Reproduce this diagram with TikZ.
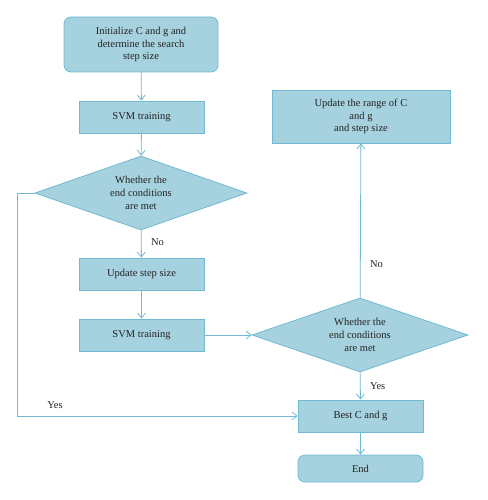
\documentclass[tikz,border=0pt]{standalone}
\usepackage{fontspec}
\setmainfont{Liberation Serif}
\usetikzlibrary{shapes.geometric,arrows.meta}
\definecolor{boxfill}{RGB}{166,209,222}
\definecolor{boxline}{RGB}{112,186,211}
\definecolor{txt}{RGB}{35,35,35}
\begin{document}
\begin{tikzpicture}[x=1pt,y=-1pt,line width=0.8pt,
    every node/.style={font=\fontsize{10.5}{12.8}\selectfont,text=txt},
    box/.style={draw=boxline,fill=boxfill,align=center,inner sep=0pt,
      minimum width=125,minimum height=32},
    rbox/.style={box,rounded corners=7pt},
    decision/.style={diamond,draw=boxline,fill=boxfill,align=center,
      inner sep=0pt,aspect=2.9,minimum width=212,minimum height=74},
    flow/.style={draw=boxline,-{Straight Barb[length=5pt,width=8pt]}}]
  \useasboundingbox (0,0) rectangle (487,500);
  \node[rbox,minimum width=154,minimum height=55] (init) at (141,44.5)
    {Initialize C and g and\\determine the search\\step size};
  \node[box] (train1) at (141.5,117) {SVM training};
  \node[decision] (cond1) at (141,193) {Whether the\\end conditions\\are met};
  \node[box] (step) at (141.5,274) {Update step size};
  \node[box] (train2) at (141.5,335) {SVM training};
  \node[decision,minimum width=216] (cond2) at (360,335)
    {Whether the\\end conditions\\are met};
  \node[box,minimum width=178,minimum height=53] (range) at (361,116.5)
    {Update the range of C\\and g\\and step size};
  \node[box] (best) at (360.5,416) {Best C and g};
  \node[rbox,minimum height=27] (end) at (360.5,468.5) {End};
  \draw[flow] (init) -- (train1);
  \draw[flow] (train1) -- (cond1);
  \draw[flow] (cond1) -- node[right=6pt,pos=0.45]{No} (step);
  \draw[flow] (step) -- (train2);
  \draw[flow] (train2) -- (cond2);
  \draw[flow] (cond2) -- node[right=6pt,pos=0.22]{No} (range);
  \draw[flow] (cond2) -- node[right=6pt,pos=0.5]{Yes} (best);
  \draw[flow] (best) -- (end);
  \draw[flow] (cond1.west) -- (17.5,193) |- node[pos=0.567,above=4pt]{Yes} (best.west);
\end{tikzpicture}
\end{document}
